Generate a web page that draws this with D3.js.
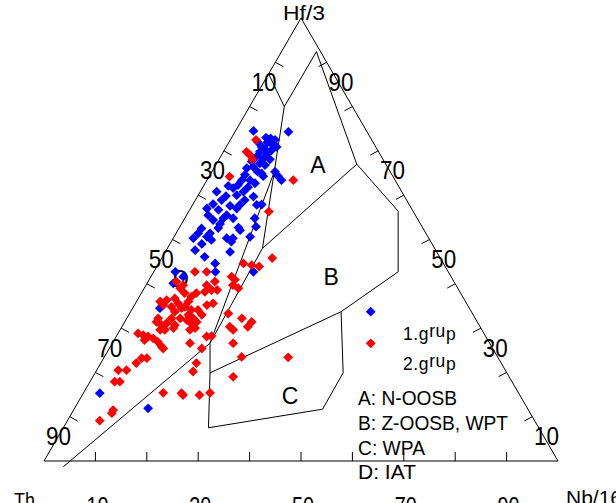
<!DOCTYPE html>
<html>
<head>
<meta charset="utf-8">
<script src="https://cdn.jsdelivr.net/npm/d3@7"></script>
<style>
  html, body { margin: 0; padding: 0; background: #fff; overflow: hidden; }
  svg { display: block; font-family: Arial, "Liberation Sans", sans-serif; }
</style>
</head>
<body>
<svg id="chart" width="616" height="503"></svg>
<script>
// Th – Hf/3 – Nb/16 ternary discrimination diagram.
// Every composition is given in percent as [Th, Hf/3, Nb/16].

const cornerNames = ["Th", "Hf/3", "Nb/16"];
const seriesNames = ["1.grup", "2.grup"];
const seriesColors = ["#0000ff", "#ff0000"];
const tickValues = [10, 20, 30, 40, 50, 60, 70, 80, 90];
const tickLabels = [10, 30, 50, 70, 90];
const fieldLetters = ["A", "B", "C", "D"];
const fieldKey = ["A: N-OOSB", "B: Z-OOSB, WPT", "C: WPA", "D: IAT"];

// 1. grup
const group1 = [
  [22.0,74.5,3.5],[15.3,74.3,10.4],[20.3,73.0,6.7],[19.5,72.8,7.7],[18.8,72.5,8.7],
  [20.6,71.9,7.5],[19.9,71.5,8.6],[22.2,70.9,6.9],[19.3,70.9,9.8],[21.8,70.4,7.8],
  [20.6,70.2,9.2],[23.1,69.8,7.1],[21.9,69.3,8.8],[24.3,68.7,7.0],[23.2,68.3,8.5],
  [22.0,68.1,9.9],[25.8,67.6,6.6],[24.4,67.2,8.4],[23.6,66.8,9.6],[26.1,66.4,7.5],
  [27.5,66.1,6.4],[25.8,65.3,8.9],[28.6,64.6,6.8],[25.2,64.9,9.9],[22.4,65.3,12.3],
  [22.3,64.3,13.4],[22.1,63.4,14.5],[28.2,63.4,8.4],[29.8,63.4,6.8],[27.6,62.7,9.7],
  [31.1,62.3,6.6],[29.4,61.8,8.8],[30.8,60.8,8.4],[32.4,61.6,6.0],[33.1,62.1,4.8],
  [29.4,59.7,10.9],[32.5,60.0,7.5],[36.0,60.8,3.2],[36.0,58.9,5.1],[31.5,58.9,9.6],
  [28.7,57.9,13.4],[29.7,57.8,12.5],[35.0,57.6,7.4],[34.0,57.0,9.0],[38.1,58.0,3.9],
  [39.8,57.0,3.2],[37.7,56.7,5.6],[36.7,55.5,7.8],[40.3,55.5,4.2],[39.9,54.4,5.7],
  [37.7,54.8,7.5],[35.8,54.8,9.4],[31.6,54.8,13.6],[32.3,52.9,14.8],[39.0,53.5,7.5],
  [35.8,52.7,11.5],[43.1,52.5,4.4],[44.3,51.4,4.3],[42.0,51.4,6.6],[39.3,50.3,10.4],
  [38.1,50.3,11.6],[34.6,50.6,14.8],[45.8,50.3,3.9],[43.0,50.6,6.4],[42.5,49.9,7.6],
  [38.8,49.5,11.7],[40.2,47.2,12.6],[35.8,52.1,12.1],[46.8,47.6,5.6],[45.7,46.1,8.2],
  [44.4,44.6,11.0],[45.3,42.7,12.0],[53.1,42.7,4.2],[52.1,41.6,6.3],[54.8,40.1,5.1],
  [60.2,34.5,5.3],[37.9,42.7,19.4],[81.5,15.3,3.2],[73.8,11.9,14.3],[22.4,72.0,5.6],
  [25.2,64.3,10.5],[33.0,57.8,9.2],[39.8,52.6,7.6],[44.8,49.0,6.2],[34.7,59.8,5.5]
];

// 2. grup
const group2 = [
  [22.5,72.5,5.0],[25.7,69.8,4.5],[25.4,69.1,5.5],[25.4,68.1,6.5],[31.8,64.2,4.0],
  [19.8,63.4,16.8],[28.1,56.3,15.6],[32.7,45.8,21.5],[38.9,44.6,16.5],[37.5,44.2,18.3],
  [36.2,43.9,19.9],[49.3,42.7,8.0],[47.0,42.7,10.3],[54.0,40.5,5.5],[53.1,39.7,7.2],
  [54.0,39.0,7.0],[46.5,40.5,13.0],[48.5,39.7,11.8],[48.1,38.6,13.3],[49.6,38.2,12.2],
  [42.7,41.6,15.7],[42.4,40.9,16.7],[43.4,39.7,16.9],[42.7,39.0,18.3],[51.4,37.9,10.7],
  [52.8,37.1,10.1],[59.4,36.0,4.6],[58.0,36.3,5.7],[59.2,35.2,5.6],[56.2,36.7,7.1],
  [56.1,35.6,8.3],[57.8,34.8,7.4],[56.0,34.5,9.5],[57.7,33.7,8.6],[53.9,36.0,10.1],
  [55.2,34.8,10.0],[54.3,34.1,11.6],[55.4,33.0,11.6],[54.9,32.2,12.9],[53.0,34.1,12.9],
  [52.8,33.0,14.2],[54.6,31.4,14.0],[50.7,35.2,14.1],[49.3,35.6,15.1],[61.7,32.2,6.1],
  [62.4,31.4,6.2],[61.8,30.7,7.5],[60.6,31.1,8.3],[62.6,29.6,7.8],[61.7,29.6,8.7],
  [59.1,32.2,8.7],[59.2,30.7,10.1],[57.4,32.2,10.4],[56.3,31.8,11.9],[55.8,31.1,13.1],
  [55.6,30.0,14.4],[56.8,29.6,13.6],[59.8,30.0,10.2],[67.3,28.8,3.9],[66.5,28.4,5.1],
  [65.7,28.1,6.2],[66.8,27.3,5.9],[64.9,27.7,7.4],[64.4,26.9,8.7],[64.2,25.8,10.0],
  [64.1,25.4,10.5],[58.3,26.6,15.1],[54.3,28.1,17.6],[53.3,28.2,18.5],[56.6,25.4,18.0],
  [47.5,33.3,19.2],[48.7,30.3,21.0],[48.4,29.6,22.0],[45.4,32.2,22.4],[43.9,31.4,24.7],
  [45.2,30.3,24.5],[49.9,26.6,23.5],[49.8,23.5,26.7],[40.8,23.4,35.8],[69.4,23.2,7.4],
  [68.4,23.2,8.4],[71.0,22.1,6.9],[75.3,20.5,4.2],[73.7,20.5,5.8],[77.3,17.9,4.8],
  [76.3,17.9,5.8],[59.3,22.1,18.6],[60.9,20.2,18.9],[53.7,19.0,27.3],[69.1,15.4,15.5],
  [65.6,15.3,19.1],[65.5,14.9,19.6],[62.3,14.9,22.8],[60.0,15.4,24.6],[80.8,11.5,7.7],
  [81.4,10.8,7.8],[84.6,9.1,6.3],[53.7,37.9,8.4],[47.0,38.6,14.4]
];

// Field boundary vertices
const V = {
  p0: [12.6, 87.4, 0.0],   p1: [0.8, 92.4, 6.8],
  k1: [13.25, 80.0, 6.75], k2: [5.65, 67.0, 27.35],
  k3: [22.55, 65.3, 12.15], k4: [33.5, 48.0, 18.5],
  k5: [54.4, 26.6, 19.0],  e: [96.9, -1.3, 4.4],
  k6: [2.9, 56.4, 40.7],   k7: [9.75, 42.7, 47.55],
  k8: [25.35, 33.7, 40.95], c1: [57.75, 19.9, 22.35],
  c2: [31.85, 19.9, 48.25], c3: [39.95, 11.7, 48.35],
  c4: [64.25, 7.5, 28.25]
};
const boundaries = [
  ["p0", "k1"], ["p1", "k1"],
  ["p1", "k2", "k6", "k7", "k8", "c1"],
  ["k2", "k4"], ["k1", "k3", "k4"], ["k3", "k5"],
  ["k4", "k5", "e"], ["k5", "c1"],
  ["k8", "c2", "c3", "c4", "c1"]
];
// Field letter anchors
const fieldLetterPos = [[13.3, 66.8, 19.9], [23.4, 41.5, 35.1], [44.8, 14.7, 40.5], [52.9, 41.1, 6.0]];

// ---- scales: horizontal position from (Nb + Hf/2), vertical from Hf ----
const xScale = d3.scaleLinear().domain([0, 100]).range([44, 558]);
const yScale = d3.scaleLinear().domain([0, 100]).range([461, 18]);
const project = ([th, hf, nb]) => [xScale(nb + hf / 2), yScale(hf)];

const svg = d3.select("#chart");
const ink = "#000";

// triangle frame
const corners = [[100, 0, 0], [0, 100, 0], [0, 0, 100]];
svg.append("path")
  .attr("d", d3.line()(corners.map(project)) + "Z")
  .attr("fill", "none").attr("stroke", ink).attr("stroke-width", 1);

// ticks
const tickLen = 9;
const ticks = svg.append("g").attr("stroke", ink).attr("stroke-width", 1);
tickValues.forEach(v => {
  // left edge (Th)
  let [x, y] = project([v, 100 - v, 0]);
  ticks.append("line").attr("x1", x).attr("y1", y)
    .attr("x2", x + tickLen * 0.88).attr("y2", y + tickLen * 0.47);
  // right edge (Hf/3)
  [x, y] = project([0, v, 100 - v]);
  ticks.append("line").attr("x1", x).attr("y1", y)
    .attr("x2", x - tickLen * 0.88).attr("y2", y + tickLen * 0.47);
  // bottom edge (Nb/16)
  [x, y] = project([100 - v, 0, v]);
  ticks.append("line").attr("x1", x).attr("y1", y)
    .attr("x2", x).attr("y2", y - tickLen);
});

// tick labels
const numFont = 25;
const tl = svg.append("g").attr("font-size", numFont).attr("fill", ink)
  .attr("text-anchor", "middle");
tickLabels.forEach(v => {
  let [x, y] = project([v + 4.4, 100 - v - 4.4, 0]);
  tl.append("text").attr("x", x).attr("y", y + 9).text(v)
    .attr("textLength", 25).attr("lengthAdjust", "spacingAndGlyphs");
  [x, y] = project([0, v - 4.4, 100 - v + 4.4]);
  tl.append("text").attr("x", x + 3).attr("y", y + 9).text(v)
    .attr("textLength", 25).attr("lengthAdjust", "spacingAndGlyphs");
  [x, y] = project([100 - v, 0, v]);
  tl.append("text").attr("x", x + 2).attr("y", 515).text(v)
    .attr("textLength", 22).attr("lengthAdjust", "spacingAndGlyphs");
});

// corner names
const cn = svg.append("g").attr("font-size", 21).attr("fill", ink);
cn.append("text").attr("x", 283).attr("y", 20).text(cornerNames[1])
  .attr("textLength", 42).attr("lengthAdjust", "spacingAndGlyphs");
cn.append("text").attr("x", 14).attr("y", 507).text(cornerNames[0])
  .attr("textLength", 21).attr("lengthAdjust", "spacingAndGlyphs");
cn.append("text").attr("x", 566).attr("y", 505).text(cornerNames[2])
  .attr("textLength", 56).attr("lengthAdjust", "spacingAndGlyphs");

// field letters (beneath the samples)
const fl = svg.append("g").attr("font-size", 23).attr("fill", ink)
  .attr("text-anchor", "middle");
fieldLetters.forEach((t, i) => {
  const [x, y] = project(fieldLetterPos[i]);
  fl.append("text").attr("x", x).attr("y", y + 8).text(t);
});

// field boundaries
const lineGen = d3.line();
svg.append("g").attr("fill", "none").attr("stroke", ink).attr("stroke-width", 1)
  .selectAll("path").data(boundaries).join("path")
  .attr("d", b => lineGen(b.map(k => project(V[k]))));

// samples
const diamond = d3.symbol().type(d3.symbolSquare).size(48);
[group1, group2].forEach((pts, i) => {
  svg.append("g").attr("fill", seriesColors[i])
    .selectAll("path").data(pts).join("path")
    .attr("d", diamond)
    .attr("transform", d => {
      const [x, y] = project(d);
      return `translate(${x},${y}) rotate(45)`;
    });
});

// legend
const legendY = [311.7, 343.3];
const legendTextY = [340, 370];
seriesNames.forEach((name, i) => {
  svg.append("path").attr("d", diamond).attr("fill", seriesColors[i])
    .attr("transform", `translate(370.7,${legendY[i]}) rotate(45)`);
  const [num, rest] = name.split(".");
  const t = svg.append("text").attr("x", 403).attr("y", legendTextY[i])
    .attr("font-size", 17.5).attr("fill", ink).attr("letter-spacing", 0.6);
  t.append("tspan").text(num + "." + rest.slice(0, 1));
  t.append("tspan").attr("dy", -3.5).text(rest.slice(1, 3));
  t.append("tspan").attr("dy", 3.5).text(rest.slice(3));
});

const keyWidths = [99, 150, 67, 58];
const keyY = [405, 430, 455, 479];
const fk = svg.append("g").attr("font-size", 21).attr("fill", ink);
fieldKey.forEach((t, i) => {
  fk.append("text").attr("x", 358).attr("y", keyY[i]).text(t)
    .attr("textLength", keyWidths[i]).attr("lengthAdjust", "spacingAndGlyphs");
});
</script>
</body>
</html>
